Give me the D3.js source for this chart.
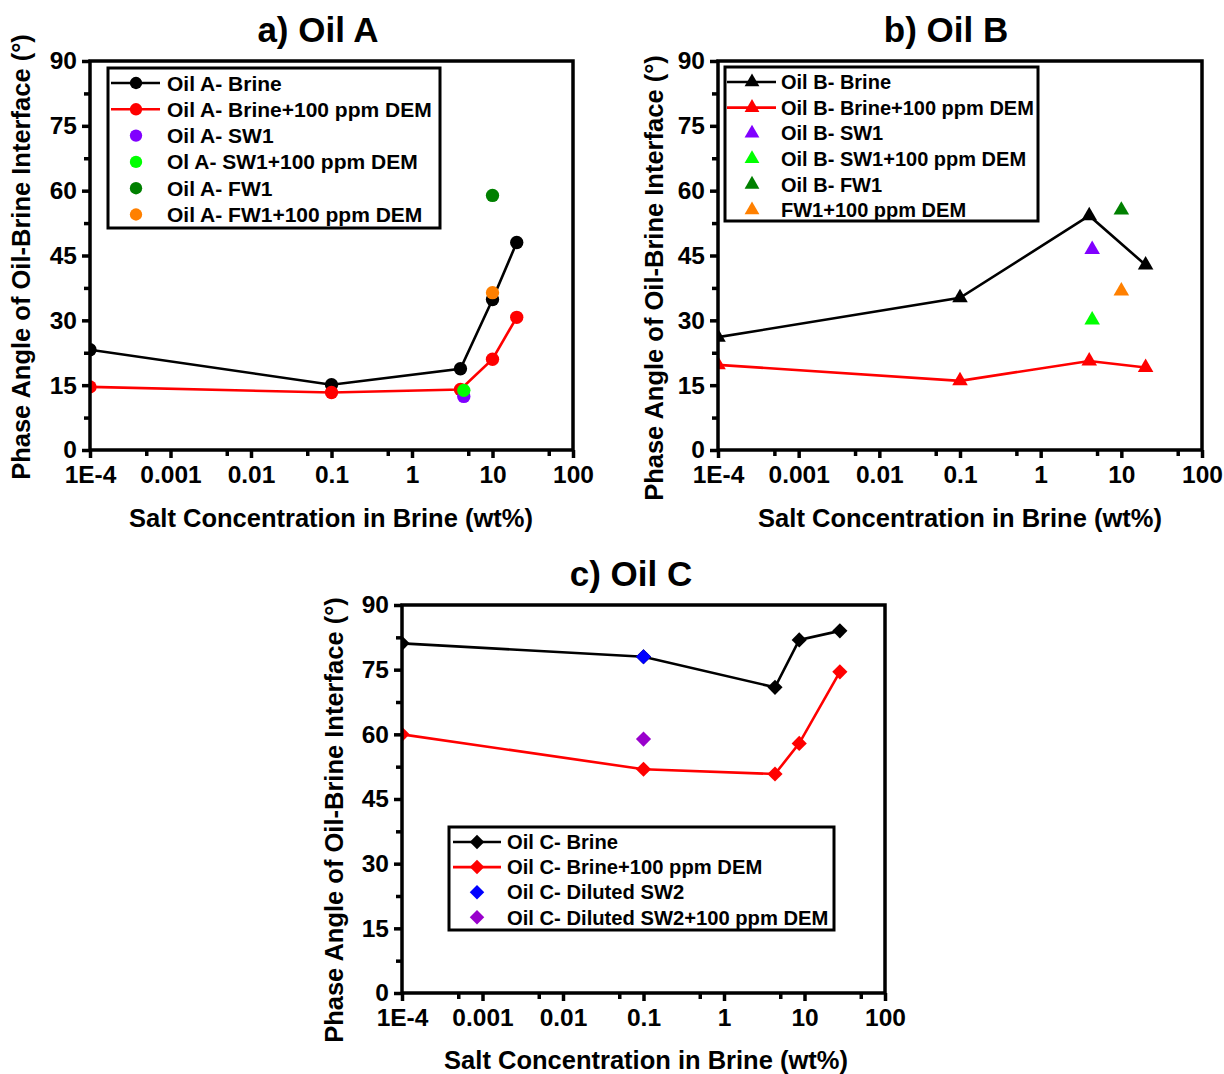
<!DOCTYPE html>
<html>
<head>
<meta charset="utf-8">
<script src="https://cdn.jsdelivr.net/npm/d3@7"></script>
<style>
  body { margin: 0; background: #fff; }
  svg { display: block; }
  text { font-family: "Liberation Sans", Arial, Helvetica, sans-serif; font-weight: bold; fill: #000; }
</style>
</head>
<body>
<svg id="chart" width="1224" height="1074"></svg>
<script>
// ---- axis ticks ----
const xTickValues = [1e-4, 1e-3, 1e-2, 0.1, 1, 10, 100];
const xTickLabels = ["1E-4", "0.001", "0.01", "0.1", "1", "10", "100"];
const xMinorTicks = [5e-4, 5e-3, 5e-2, 0.5, 5, 50];
const yTickValues = [0, 15, 30, 45, 60, 75, 90];
const yMinorTicks = [7.5, 22.5, 37.5, 52.5, 67.5, 82.5];

// ---- Oil A ----
const concA = [1e-4, 0.1, 4, 10, 20];
const oilABrine = [23.2, 15.1, 18.8, 34.8, 48.0];
const oilABrineDem = [14.6, 13.3, 14.0, 21.0, 30.7];
const oilASW1Conc = [4.4];
const oilASW1 = [12.4];
const oilASW1DemConc = [4.4];
const oilASW1Dem = [13.8];
const oilAFW1Conc = [10];
const oilAFW1 = [58.9];
const oilAFW1DemConc = [10];
const oilAFW1Dem = [36.4];

// ---- Oil B ----
const concB = [1e-4, 0.1, 4, 20];
const oilBBrine = [26.1, 35.2, 54.2, 42.8];
const oilBBrineDem = [19.7, 16.0, 20.6, 19.1];
const oilBSW1Conc = [4.35];
const oilBSW1 = [46.4];
const oilBSW1DemConc = [4.35];
const oilBSW1Dem = [30.1];
const oilBFW1Conc = [10];
const oilBFW1 = [55.5];
const oilBFW1DemConc = [10];
const oilBFW1Dem = [36.8];

// ---- Oil C ----
const concC = [1e-4, 0.1, 4.3, 8.6, 27.5];
const oilCBrine = [81.1, 78.0, 70.9, 81.9, 84.0];
const oilCBrineDem = [60.0, 51.9, 50.8, 57.9, 74.5];
const oilCDilSW2Conc = [0.1];
const oilCDilSW2 = [78.0];
const oilCDilSW2DemConc = [0.1];
const oilCDilSW2Dem = [58.9];

const svg = d3.select("#chart");

function symbolPath(shape, size) {
  if (shape === "circle") return d3.symbol(d3.symbolCircle, size)();
  if (shape === "triangle") return d3.symbol(d3.symbolTriangle, size)();
  return d3.symbol(d3.symbolSquare, size)();
}
function symbolTransform(shape, px, py) {
  return shape === "diamond"
    ? `translate(${px},${py}) rotate(45)`
    : `translate(${px},${py})`;
}

function drawPanel(p) {
  const g = svg.append("g");
  const x = d3.scaleLog().domain([1e-4, 100]).range([p.left, p.right]);
  const y = d3.scaleLinear().domain([0, 90]).range([p.bottom, p.top]);

  const clipId = "clip-" + p.id;
  svg.append("defs").append("clipPath").attr("id", clipId)
    .append("rect")
    .attr("x", p.left).attr("y", p.top)
    .attr("width", p.right - p.left).attr("height", p.bottom - p.top);

  // data
  const dataG = g.append("g").attr("clip-path", `url(#${clipId})`);
  p.series.forEach(s => {
    const pts = s.x.map((v, i) => [v, s.y[i]]);
    if (s.line) {
      dataG.append("path")
        .attr("d", d3.line().x(d => x(d[0])).y(d => y(d[1]))(pts))
        .attr("fill", "none")
        .attr("stroke", s.color)
        .attr("stroke-width", 2.6);
    }
    dataG.selectAll(null).data(pts).enter().append("path")
      .attr("d", symbolPath(p.shape, p.markSize))
      .attr("transform", d => symbolTransform(p.shape, x(d[0]), y(d[1])))
      .attr("fill", s.color);
  });

  // frame
  g.append("rect")
    .attr("x", p.left).attr("y", p.top)
    .attr("width", p.right - p.left).attr("height", p.bottom - p.top)
    .attr("fill", "none").attr("stroke", "#000").attr("stroke-width", 3.5);

  // x axis
  const xAx = g.append("g").attr("transform", `translate(0,${p.bottom})`)
    .call(d3.axisBottom(x).tickValues(xTickValues)
      .tickFormat((d, i) => xTickLabels[i]).tickSize(8).tickPadding(8));
  const xMin = g.append("g").attr("transform", `translate(0,${p.bottom})`)
    .call(d3.axisBottom(x).tickValues(xMinorTicks).tickFormat("").tickSize(6));
  // y axis
  const yAx = g.append("g").attr("transform", `translate(${p.left},0)`)
    .call(d3.axisLeft(y).tickValues(yTickValues).tickSize(8).tickPadding(5));
  const yMin = g.append("g").attr("transform", `translate(${p.left},0)`)
    .call(d3.axisLeft(y).tickValues(yMinorTicks).tickFormat("").tickSize(6));

  [xAx, xMin, yAx, yMin].forEach(a => {
    a.select(".domain").remove();
    a.selectAll(".tick line").attr("stroke", "#000").attr("stroke-width", 3.5);
    a.selectAll(".tick text")
      .attr("font-size", 24.5)
      .style("font-family", '"Liberation Sans", Arial, sans-serif')
      .style("font-weight", "bold")
      .attr("fill", "#000");
  });

  // titles
  g.append("text").attr("x", p.titleX).attr("y", p.titleY)
    .attr("text-anchor", "middle").attr("font-size", 35).text(p.title);
  g.append("text").attr("x", p.xTitleX).attr("y", p.xTitleY)
    .attr("text-anchor", "middle").attr("font-size", 25.5)
    .text("Salt Concentration in Brine (wt%)");
  g.append("text")
    .attr("transform", `translate(${p.yTitleX},${p.yTitleY}) rotate(-90)`)
    .attr("text-anchor", "middle").attr("font-size", 25.5)
    .text("Phase Angle of Oil-Brine Interface (°)");

  // legend
  const L = p.legend;
  const lg = g.append("g");
  lg.append("rect")
    .attr("x", L.x0).attr("y", L.y0)
    .attr("width", L.x1 - L.x0).attr("height", L.y1 - L.y0)
    .attr("fill", "#fff").attr("stroke", "#000").attr("stroke-width", 3);
  p.series.forEach((s, i) => {
    const ry = L.rowY + i * L.rowStep;
    if (s.line) {
      lg.append("line")
        .attr("x1", L.lineX0).attr("x2", L.lineX1).attr("y1", ry).attr("y2", ry)
        .attr("stroke", s.color).attr("stroke-width", 2.6);
    }
    lg.append("path")
      .attr("d", symbolPath(p.shape, p.legendMarkSize))
      .attr("transform", symbolTransform(p.shape, L.markX, ry))
      .attr("fill", s.color);
    lg.append("text").attr("x", L.textX).attr("y", ry).attr("dy", "0.36em")
      .attr("font-size", L.fontSize).text(s.name);
  });
}

drawPanel({
  id: "a", left: 90, right: 573, top: 61, bottom: 450,
  shape: "circle", markSize: 140, legendMarkSize: 120,
  title: "a) Oil A", titleX: 318, titleY: 42,
  xTitleX: 331, xTitleY: 527, yTitleX: 30, yTitleY: 257,
  legend: { x0: 108, y0: 68, x1: 440, y1: 228, rowY: 83, rowStep: 26.3,
            lineX0: 111, lineX1: 160, markX: 136, textX: 167, fontSize: 21 },
  series: [
    { name: "Oil A- Brine", x: concA, y: oilABrine, color: "#000000", line: true },
    { name: "Oil A- Brine+100 ppm DEM", x: concA, y: oilABrineDem, color: "#ff0000", line: true },
    { name: "Oil A- SW1", x: oilASW1Conc, y: oilASW1, color: "#8000ff", line: false },
    { name: "Ol A- SW1+100 ppm DEM", x: oilASW1DemConc, y: oilASW1Dem, color: "#00ff00", line: false },
    { name: "Oil A- FW1", x: oilAFW1Conc, y: oilAFW1, color: "#008000", line: false },
    { name: "Oil A- FW1+100 ppm DEM", x: oilAFW1DemConc, y: oilAFW1Dem, color: "#ff8000", line: false }
  ]
});

drawPanel({
  id: "b", left: 718, right: 1202, top: 61, bottom: 450,
  shape: "triangle", markSize: 105, legendMarkSize: 95,
  title: "b) Oil B", titleX: 946, titleY: 42,
  xTitleX: 960, xTitleY: 527, yTitleX: 663, yTitleY: 278,
  legend: { x0: 725, y0: 67, x1: 1038, y1: 221, rowY: 82, rowStep: 25.6,
            lineX0: 727, lineX1: 776, markX: 752, textX: 781, fontSize: 20 },
  series: [
    { name: "Oil B- Brine", x: concB, y: oilBBrine, color: "#000000", line: true },
    { name: "Oil B- Brine+100 ppm DEM", x: concB, y: oilBBrineDem, color: "#ff0000", line: true },
    { name: "Oil B- SW1", x: oilBSW1Conc, y: oilBSW1, color: "#8000ff", line: false },
    { name: "Oil B- SW1+100 ppm DEM", x: oilBSW1DemConc, y: oilBSW1Dem, color: "#00ff00", line: false },
    { name: "Oil B- FW1", x: oilBFW1Conc, y: oilBFW1, color: "#008000", line: false },
    { name: "FW1+100 ppm DEM", x: oilBFW1DemConc, y: oilBFW1Dem, color: "#ff8000", line: false }
  ]
});

drawPanel({
  id: "c", left: 402, right: 885, top: 605, bottom: 993,
  shape: "diamond", markSize: 115, legendMarkSize: 105,
  title: "c) Oil C", titleX: 631, titleY: 586,
  xTitleX: 646, xTitleY: 1069, yTitleX: 343, yTitleY: 820,
  legend: { x0: 449, y0: 827, x1: 834, y1: 930, rowY: 842, rowStep: 25.1,
            lineX0: 453, lineX1: 501, markX: 477, textX: 507, fontSize: 20.2 },
  series: [
    { name: "Oil C- Brine", x: concC, y: oilCBrine, color: "#000000", line: true },
    { name: "Oil C- Brine+100 ppm DEM", x: concC, y: oilCBrineDem, color: "#ff0000", line: true },
    { name: "Oil C- Diluted SW2", x: oilCDilSW2Conc, y: oilCDilSW2, color: "#0000ff", line: false },
    { name: "Oil C- Diluted SW2+100 ppm DEM", x: oilCDilSW2DemConc, y: oilCDilSW2Dem, color: "#9900cc", line: false }
  ]
});
</script>
</body>
</html>
